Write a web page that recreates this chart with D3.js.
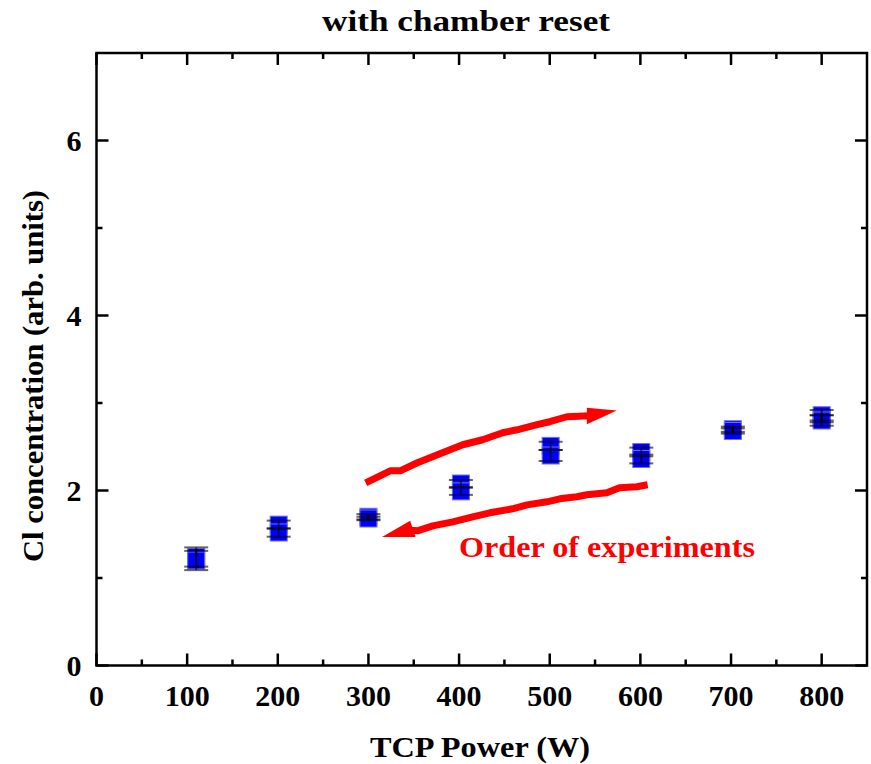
<!DOCTYPE html>
<html>
<head>
<meta charset="utf-8">
<script src="https://cdn.jsdelivr.net/npm/d3@7"></script>
<style>
  body { margin: 0; background: #fff; }
  svg text { font-family: "Liberation Serif", "Times New Roman", serif; font-weight: bold; }
</style>
</head>
<body>
<div id="chart"></div>
<script>
'use strict';
// measured points (several repeats per power setting)
const measPower = [110, 110, 201, 201, 300, 300, 402, 402, 501, 501, 601, 601, 702, 702, 800, 800, 800]
const measConc = [1.24, 1.20, 1.61, 1.52, 1.70, 1.68, 2.08, 1.99, 2.51, 2.40, 2.44, 2.36, 2.70, 2.68, 2.86, 2.82, 2.80]
const measErr = [0.11, 0.11, 0.046, 0.048, 0.03, 0.02, 0.04, 0.04, 0.047, 0.063, 0.05, 0.05, 0.03, 0.03, 0.06, 0.04, 0.06]

// "order of experiments" arrows, in data units
const upPower = [297, 324, 335, 354, 390, 404, 426, 448, 464, 486, 500, 519, 545]
const upConc = [2.088, 2.225, 2.225, 2.317, 2.466, 2.523, 2.580, 2.660, 2.694, 2.752, 2.786, 2.843, 2.855]
const upHeadPower = [541, 574, 541]
const upHeadConc = [2.946, 2.915, 2.757]
const downPower = [608, 596, 577, 563, 541, 530, 511, 497, 475, 459, 434, 415, 393, 371, 354, 342]
const downConc = [2.065, 2.043, 2.031, 1.974, 1.951, 1.928, 1.905, 1.871, 1.836, 1.791, 1.745, 1.699, 1.642, 1.596, 1.539, 1.55]
const downHeadPower = [315, 346, 352]
const downHeadConc = [1.470, 1.653, 1.470]

const xMajor = [0, 100, 200, 300, 400, 500, 600, 700, 800]
const xMinor = [50, 150, 250, 350, 450, 550, 650, 750]
const yMajor = [0, 2, 4, 6]
const yMinor = [1, 3, 5]

const W = 871, H = 764
const plot = { left: 96.5, right: 867, top: 53, bottom: 665.5 }
const x = d3.scaleLinear().domain([0, 850]).range([plot.left, plot.right])
const y = d3.scaleLinear().domain([0, 7]).range([plot.bottom, plot.top])

const svg = d3.select('#chart').append('svg')
  .attr('width', W)
  .attr('height', H)

const zip = (a, b) => a.map((v, i) => [v, b[i]])
const line = d3.line().x(d => x(d[0])).y(d => y(d[1]))

// Arrows
const arrows = svg.append('g').attr('fill', 'none').attr('stroke', '#ff0000')
  .attr('stroke-width', 7).attr('stroke-linejoin', 'round')
arrows.append('path').datum(zip(upPower, upConc)).attr('d', line)
arrows.append('path').datum(zip(downPower, downConc)).attr('d', line)
svg.append('path').datum(zip(upHeadPower, upHeadConc))
  .attr('d', d => line(d) + 'Z').attr('fill', '#ff0000')
svg.append('path').datum(zip(downHeadPower, downHeadConc))
  .attr('d', d => line(d) + 'Z').attr('fill', '#ff0000')

svg.append('text')
  .attr('x', 459)
  .attr('y', 557)
  .attr('fill', '#ff0000')
  .attr('textLength', 296)
  .attr('lengthAdjust', 'spacingAndGlyphs')
  .style('font-size', '29px')
  .text('Order of experiments')

// Squares
svg.append('g').selectAll('rect')
  .data(measPower)
  .join('rect')
  .attr('x', d => x(d) - 8.5)
  .attr('y', (d, i) => y(measConc[i]) - 8.5)
  .attr('width', 17)
  .attr('height', 17)
  .attr('fill', '#0000ff')
  .attr('stroke', '#6f6fff')
  .attr('stroke-width', 1)

// Error bars
const err = svg.append('g').attr('stroke', '#000').attr('stroke-opacity', 0.6).attr('stroke-width', 2)
measPower.forEach((p, i) => {
  const lo = y(measConc[i] - measErr[i])
  const hi = y(measConc[i] + measErr[i])
  err.append('line').attr('x1', x(p)).attr('x2', x(p)).attr('y1', hi).attr('y2', lo)
  err.append('line').attr('x1', x(p) - 12).attr('x2', x(p) + 12).attr('y1', hi).attr('y2', hi)
  err.append('line').attr('x1', x(p) - 12).attr('x2', x(p) + 12).attr('y1', lo).attr('y2', lo)
})

// Axes: ticks inward on all four sides
function ticksAlong(g, values, len, vertical, pos, dir) {
  values.forEach(v => {
    if (vertical) {
      g.append('line').attr('x1', x(v)).attr('x2', x(v)).attr('y1', pos).attr('y2', pos + dir * len)
    } else {
      g.append('line').attr('y1', y(v)).attr('y2', y(v)).attr('x1', pos).attr('x2', pos + dir * len)
    }
  })
}
const axes = svg.append('g').attr('stroke', '#000').attr('stroke-width', 2.5)
axes.append('rect')
  .attr('x', plot.left).attr('y', plot.top)
  .attr('width', plot.right - plot.left).attr('height', plot.bottom - plot.top)
  .attr('fill', 'none')
ticksAlong(axes, xMajor, 12, true, plot.bottom, -1)
ticksAlong(axes, xMinor, 6, true, plot.bottom, -1)
ticksAlong(axes, xMajor, 12, true, plot.top, 1)
ticksAlong(axes, xMinor, 6, true, plot.top, 1)
ticksAlong(axes, yMajor, 12, false, plot.left, 1)
ticksAlong(axes, yMinor, 6, false, plot.left, 1)
ticksAlong(axes, yMajor, 12, false, plot.right, -1)
ticksAlong(axes, yMinor, 6, false, plot.right, -1)

// Tick labels
svg.append('g').selectAll('text')
  .data(xMajor)
  .join('text')
  .attr('x', d => x(d))
  .attr('y', plot.bottom + 40)
  .attr('text-anchor', 'middle')
  .style('font-size', '30px')
  .text(d => d)
svg.append('g').selectAll('text')
  .data(yMajor)
  .join('text')
  .attr('x', plot.left - 15)
  .attr('y', d => y(d) + 10)
  .attr('text-anchor', 'end')
  .style('font-size', '30px')
  .text(d => d)

// Titles
svg.append('text')
  .attr('x', 322)
  .attr('y', 31)
  .attr('textLength', 288)
  .attr('lengthAdjust', 'spacingAndGlyphs')
  .style('font-size', '30px')
  .text('with chamber reset')
svg.append('text')
  .attr('x', 370)
  .attr('y', 757)
  .attr('textLength', 220)
  .attr('lengthAdjust', 'spacingAndGlyphs')
  .style('font-size', '30px')
  .text('TCP Power (W)')
svg.append('text')
  .attr('transform', 'translate(43,562) rotate(-90)')
  .attr('textLength', 372)
  .attr('lengthAdjust', 'spacingAndGlyphs')
  .style('font-size', '30px')
  .text('Cl concentration (arb. units)')
</script>
</body>
</html>
